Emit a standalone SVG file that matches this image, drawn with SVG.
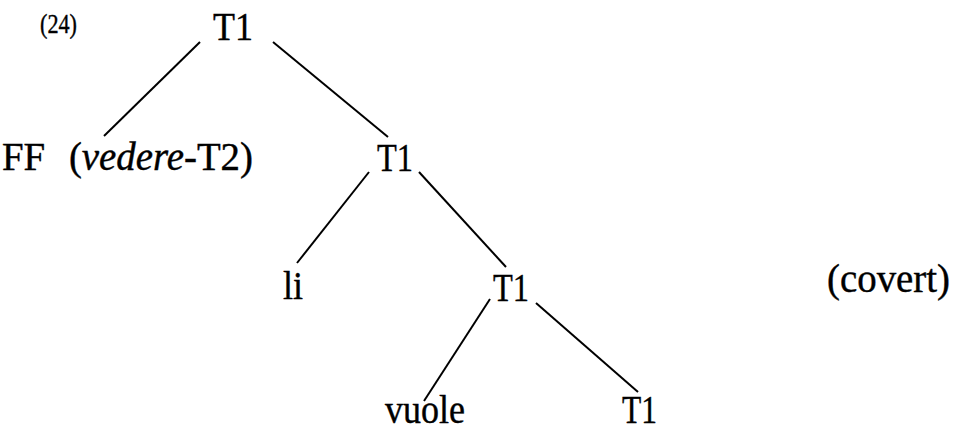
<svg xmlns="http://www.w3.org/2000/svg" width="954" height="432" viewBox="0 0 954 432">
<style>
text{font-family:"Liberation Serif","DejaVu Serif",serif;font-size:39px;fill:#000;stroke:#000;stroke-width:0.4}
.num{font-size:27px}
.it{font-style:italic}
line{stroke:#000;stroke-width:2;stroke-linecap:butt}
</style>
<rect width="954" height="432" fill="#fff"/>
<text class="num" x="40" y="33" textLength="37" lengthAdjust="spacingAndGlyphs">(24)</text>
<g id="connectors">
<line x1="200" y1="42" x2="104" y2="136"/>
<line x1="273" y1="42" x2="388" y2="137"/>
<line x1="369" y1="172" x2="297" y2="263"/>
<line x1="419" y1="172" x2="506" y2="267"/>
<line x1="490" y1="299" x2="424" y2="401"/>
<line x1="536" y1="303" x2="638" y2="392"/>
</g>
<g id="n-root"><text x="213" y="40" textLength="40" lengthAdjust="spacingAndGlyphs">T1</text></g>
<g id="n-ff"><text x="2" y="170" textLength="251" lengthAdjust="spacingAndGlyphs">FF <tspan dx="14">(</tspan><tspan class="it">vedere</tspan>-T2)</text></g>
<g id="n-t1b"><text x="377" y="171" textLength="36" lengthAdjust="spacingAndGlyphs">T1</text></g>
<g id="n-li"><text x="283" y="299" textLength="20" lengthAdjust="spacingAndGlyphs">li</text></g>
<g id="n-t1c"><text x="493" y="301" textLength="36" lengthAdjust="spacingAndGlyphs">T1</text></g>
<g id="n-covert"><text x="827" y="292" textLength="123" lengthAdjust="spacingAndGlyphs">(covert)</text></g>
<g id="n-vuole"><text x="385" y="423" textLength="80" lengthAdjust="spacingAndGlyphs">vuole</text></g>
<g id="n-t1d"><text x="622" y="423" textLength="35" lengthAdjust="spacingAndGlyphs">T1</text></g>
</svg>
